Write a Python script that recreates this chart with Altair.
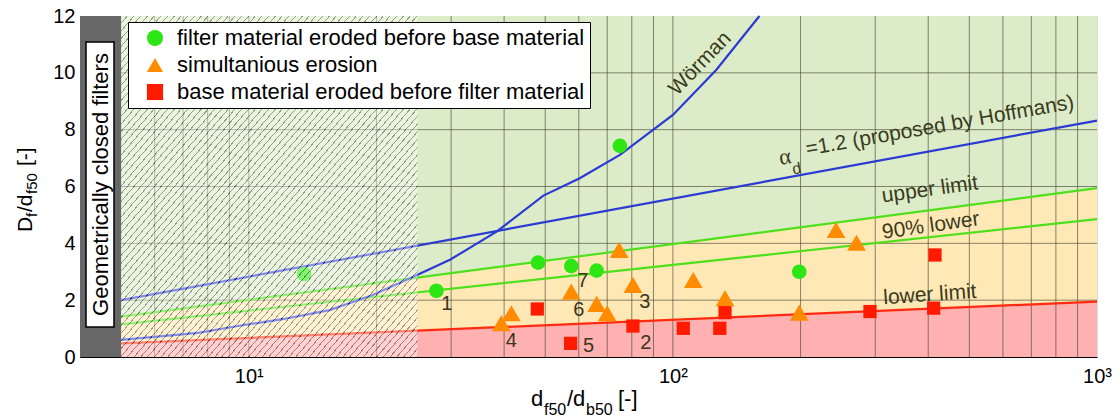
import altair as alt
import pandas as pd

# ---------------- data ----------------
types = ["filter material eroded before base material",
         "simultanious erosion",
         "base material eroded before filter material"]

green_x = [13.5, 27.7, 48.1, 57.6, 66.1, 75.0, 198.6]
green_y = [2.92, 2.33, 3.32, 3.20, 3.04, 7.43, 3.00]
orange_x = [39.4, 41.6, 57.6, 66.1, 70.0, 74.7, 80.5, 111.7, 132.7, 198.6, 242.5, 271.0]
orange_y = [1.19, 1.54, 2.30, 1.87, 1.54, 3.77, 2.54, 2.71, 2.07, 1.56, 4.47, 4.02]
red_x = [47.9, 57.4, 80.5, 105.8, 129.0, 132.7, 291.6, 415.0, 412.0]
red_y = [1.69, 0.48, 1.09, 1.01, 1.01, 1.56, 1.60, 3.59, 1.72]

line_x = [5, 1000]
hoffmans_y = [2.0, 8.32]
upper_y = [1.42, 5.94]
lower90_y = [1.15, 4.85]
lower_y = [0.48, 1.95]

worman_x = [5, 7.6, 9.5, 12, 15.5, 19.6, 24, 29.8, 38.4, 49.5, 60.3, 75, 100, 126.5, 160]
worman_y = [0.6, 0.85, 1.1, 1.33, 1.65, 2.18, 2.77, 3.42, 4.41, 5.68, 6.29, 7.11, 8.52, 10.1, 12.0]

x_domain = [4, 1000]
y_domain = [0, 12]
closed_limit = [4, 5]        # geometrically closed filters band
hatch_range = [5, 25]        # hatched range
x_grid = [6, 7, 8, 9, 10, 20, 30, 40, 50, 60, 70, 80, 90, 100,
          200, 300, 400, 500, 600, 700, 800, 900]
y_grid = [2, 4, 6, 8, 10]
x_ticks = [10, 100, 1000]
y_ticks = [0, 2, 4, 6, 8, 10, 12]

num_labels = ["1", "2", "3", "4", "5", "6", "7"]
num_x = [29.3, 86.3, 85.9, 41.6, 63.3, 60.0, 61.3]
num_y = [1.87, 0.50, 1.95, 0.57, 0.39, 1.65, 2.68]

# ---------------- styling ----------------
FONT = "Liberation Sans"
C_GREEN_BG = "#dcecc9"
C_YELLOW_BG = "#fee9b6"
C_RED_BG = "#ffb0b0"
C_BLUE = "#2b3ad2"
C_GLINE = "#4ee01a"
C_RLINE = "#ff2a10"
C_TXT = "#3a3a20"
colors = ["#2ee614", "#ff8c00", "#ff1a00"]
shapes = ["circle", "triangle-up", "square"]
sizes = [215, 350, 175]

xs = alt.Scale(type="log", domain=x_domain, nice=False)
ys = alt.Scale(domain=y_domain, nice=False, zero=False)
xax = alt.Axis(values=x_ticks, title=None, grid=False, ticks=False, labelFontSize=20,
               labelPadding=9, labelFlush=False, labelOverlap=False, domainColor="black",
               labelColor="black", labelFont=FONT,
               labelExpr="datum.value == 10 ? '10¹' : datum.value == 100 ? '10²' : datum.value == 1000 ? '10³' : ''")
yax = alt.Axis(values=y_ticks, title=None, grid=False, ticks=False, labelFontSize=20,
               labelPadding=5, labelFlush=False, labelOverlap=False, domainColor="black",
               labelColor="black", labelFont=FONT)


def X(f):
    return alt.X(f, type="quantitative", scale=xs, axis=xax)


def Y(f):
    return alt.Y(f, type="quantitative", scale=ys, axis=yax)


W, H = 1017, 341

lines_df = pd.DataFrame({"x": line_x, "hof": hoffmans_y, "up": upper_y,
                         "l90": lower90_y, "low": lower_y,
                         "top": [y_domain[1]] * 2, "zero": [y_domain[0]] * 2})

fill_red = alt.Chart(lines_df).mark_area(color=C_RED_BG, opacity=1).encode(
    x=X("x"), y=Y("zero"), y2="low")
fill_yel = alt.Chart(lines_df).mark_area(color=C_YELLOW_BG, opacity=1).encode(
    x=X("x"), y=Y("low"), y2="up")
fill_grn = alt.Chart(lines_df).mark_area(color=C_GREEN_BG, opacity=1).encode(
    x=X("x"), y=Y("up"), y2="top")

grid_v = alt.Chart(pd.DataFrame({"x": x_grid})).mark_rule(
    color="#3c3c2c", opacity=0.6, strokeWidth=1).encode(x=X("x"))
grid_h = alt.Chart(pd.DataFrame({"y": y_grid})).mark_rule(
    color="#3c3c2c", opacity=0.6, strokeWidth=1).encode(y=Y("y"))


def straight(col, color):
    return alt.Chart(lines_df).mark_line(color=color, strokeWidth=2.2).encode(
        x=X("x"), y=Y(col))


l_hof = straight("hof", C_BLUE)
l_up = straight("up", C_GLINE)
l_90 = straight("l90", C_GLINE)
l_low = straight("low", C_RLINE)
l_wor = alt.Chart(pd.DataFrame({"x": worman_x, "y": worman_y})).mark_line(
    color=C_BLUE, strokeWidth=2.2).encode(x=X("x"), y=Y("y"))

leg = alt.Legend(title=None, orient="none", legendX=48, legendY=6, fillColor="white",
                 strokeColor="black", padding=5, labelFontSize=22, labelFont=FONT,
                 labelColor="black", symbolOffset=11, labelOffset=11, symbolSize=260,
                 rowPadding=5, labelLimit=700, symbolStrokeWidth=0, cornerRadius=0)


def point_layer(xv, yv, t, size):
    df = pd.DataFrame({"x": xv, "y": yv, "type": [t] * len(xv)})
    return alt.Chart(df).mark_point(filled=True, opacity=1, size=size).encode(
        x=X("x"), y=Y("y"),
        color=alt.Color("type:N", scale=alt.Scale(domain=types, range=colors), legend=leg),
        shape=alt.Shape("type:N", scale=alt.Scale(domain=types, range=shapes), legend=leg),
    )


p_green = point_layer(green_x, green_y, types[0], sizes[0])
p_orange = point_layer(orange_x, orange_y, types[1], sizes[1])
p_red = point_layer(red_x, red_y, types[2], sizes[2])

# hatch overlay (diagonal stripes via a striped gradient)
stops = []
n = 88
for i in range(n):
    a = i / n
    b = (i + 0.83) / n
    c = (i + 1) / n
    stops += [alt.GradientStop(offset=a, color="#ffffff"),
              alt.GradientStop(offset=b, color="#ffffff"),
              alt.GradientStop(offset=b, color="#333333"),
              alt.GradientStop(offset=c, color="#333333")]
grad = alt.LinearGradient(gradient="linear", stops=stops, x1=0, y1=0, x2=1, y2=1)
hatch = alt.Chart(pd.DataFrame({"x": [hatch_range[0]], "x2": [hatch_range[1]],
                                "y": [y_domain[0]], "y2": [y_domain[1]]})).mark_rect(
    fill=grad, fillOpacity=0.42).encode(x=X("x"), x2="x2", y=Y("y"), y2="y2")

band = alt.Chart(pd.DataFrame({"x": [closed_limit[0]], "x2": [closed_limit[1]],
                               "y": [y_domain[0]], "y2": [y_domain[1]]})).mark_rect(
    color="#676767").encode(x=X("x"), x2="x2", y=Y("y"), y2="y2")

one = pd.DataFrame({"a": [0]})
band_box = alt.Chart(one).mark_rect(fill="white", stroke="black", strokeWidth=1.5).encode(
    x=alt.value(6), x2=alt.value(34), y=alt.value(26), y2=alt.value(311))
band_txt = alt.Chart(one).mark_text(text="Geometrically closed filters", angle=270,
                                    fontSize=22, font=FONT, color="black",
                                    align="center", baseline="middle").encode(
    x=alt.value(21), y=alt.value(168.5))


def ann(text, x, y, angle=0, size=21, color=C_TXT, align="center", font=FONT):
    return alt.Chart(pd.DataFrame({"x": [x], "y": [y]})).mark_text(
        text=text, angle=angle, fontSize=size, color=color, align=align,
        baseline="middle", font=font).encode(x=X("x"), y=Y("y"))


anns = [
    ann("Wörman", 116, 10.32, angle=314),
    ann("α", 183.7, 7.04, angle=350, size=23, font="Liberation Serif"),
    ann("d", 195.9, 6.62, angle=350, size=16),
    ann("=1.2 (proposed by Hoffmans)", 205.9, 7.29, angle=350, align="left"),
    ann("upper limit", 403.6, 5.88, angle=352),
    ann("90% lower", 405.7, 4.61, angle=352),
    ann("lower limit", 403.6, 2.18, angle=356),
]
nums = alt.Chart(pd.DataFrame({"x": num_x, "y": num_y, "t": num_labels})).mark_text(
    fontSize=20, font=FONT, color="#3d3320", baseline="middle").encode(
    x=X("x"), y=Y("y"), text="t:N")


def ptxt(text, x, y, size=21, angle=0):
    return alt.Chart(one).mark_text(text=text, fontSize=size, font=FONT, color="black",
                                    align="left", baseline="alphabetic", angle=angle).encode(
        x=alt.value(x), y=alt.value(y))


xtitle = [ptxt("d", 451, 390, 22), ptxt("f50", 464, 399, 16), ptxt("/d", 487, 390, 22),
          ptxt("b50", 506, 399, 16), ptxt("[-]", 538, 390, 22)]
ytitle = [ptxt("D", -48, 216, 21, 270), ptxt("f", -43, 201, 15, 270),
          ptxt("/d", -48, 196, 21, 270), ptxt("f50", -43, 178, 15, 270),
          ptxt("[-]", -48, 150, 21, 270)]

chart = alt.layer(
    fill_red, fill_yel, fill_grn, grid_v, grid_h,
    l_low, l_90, l_up, l_hof, l_wor, p_green, p_orange, p_red,
    hatch, band, band_box, band_txt,
    *anns, nums, *xtitle, *ytitle,
).properties(
    width=W, height=H,
    autosize=alt.AutoSizeParams(type="none"),
    padding={"left": 80, "top": 16, "right": 23, "bottom": 62},
).configure_view(stroke="black", strokeWidth=1.2).configure(font=FONT)

chart.save("out.html", embed_options={"renderer": "svg", "actions": False})
